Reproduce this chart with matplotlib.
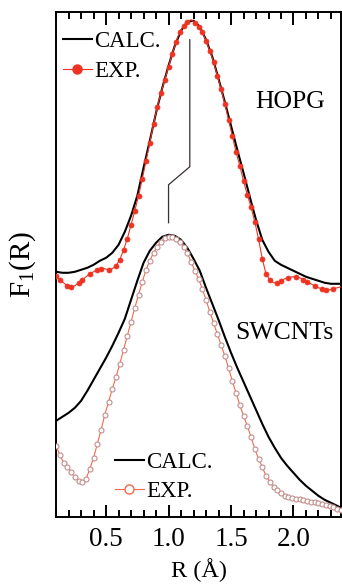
import numpy as np
import matplotlib
matplotlib.use('Agg')
import matplotlib.pyplot as plt
from matplotlib.lines import Line2D
from matplotlib.ticker import MultipleLocator

plt.rcParams['font.family'] = ['Liberation Serif', 'DejaVu Serif']
plt.rcParams['mathtext.fontset'] = 'custom'
plt.rcParams['mathtext.rm'] = 'Liberation Serif'

# calculated curves on a 0.05 A grid, measured ones on a 0.03 A grid
r_calc = np.round(0.10 + 0.05 * np.arange(47), 2)
r_exp = np.round(0.10 + 0.03 * np.arange(77), 2)

hopg_calc = [2.45, 2.44, 2.44, 2.45, 2.47, 2.49, 2.52, 2.56, 2.59, 2.64,
             2.72, 2.85, 3.01, 3.21, 3.49, 3.76, 4.04, 4.29, 4.51, 4.71,
             4.86, 4.95, 4.96, 4.90, 4.77, 4.60, 4.38, 4.15, 3.91, 3.67,
             3.44, 3.20, 2.97, 2.77, 2.65, 2.56, 2.52, 2.49, 2.46, 2.43,
             2.40, 2.38, 2.36, 2.34, 2.33, 2.33, 2.33]

hopg_exp = [2.41, 2.37, 2.34, 2.31, 2.30, 2.31, 2.34, 2.37, 2.40, 2.43,
            2.45, 2.47, 2.48, 2.48, 2.47, 2.48, 2.51, 2.57, 2.67, 2.78,
            2.92, 3.06, 3.21, 3.38, 3.56, 3.74, 3.93, 4.10, 4.24, 4.37,
            4.50, 4.63, 4.75, 4.85, 4.91, 4.95, 4.97, 4.94, 4.90, 4.85,
            4.76, 4.66, 4.55, 4.41, 4.28, 4.13, 3.97, 3.81, 3.65, 3.51,
            3.36, 3.22, 3.10, 2.95, 2.78, 2.58, 2.43, 2.37, 2.34, 2.34,
            2.36, 2.38, 2.39, 2.40, 2.40, 2.39, 2.37, 2.35, 2.33, 2.31,
            2.29, 2.28, 2.27, 2.27, 2.28, 2.29, 2.30]

swcnt_calc = [0.96, 1.00, 1.04, 1.09, 1.16, 1.26, 1.37, 1.48, 1.59, 1.71,
              1.84, 1.98, 2.17, 2.36, 2.54, 2.66, 2.74, 2.80, 2.82, 2.81,
              2.77, 2.69, 2.58, 2.46, 2.29, 2.13, 1.97, 1.80, 1.64, 1.49,
              1.35, 1.21, 1.07, 0.93, 0.80, 0.69, 0.59, 0.51, 0.44, 0.37,
              0.31, 0.26, 0.21, 0.17, 0.14, 0.11, 0.08]

swcnt_exp = [0.71, 0.62, 0.54, 0.50, 0.45, 0.40, 0.36, 0.35, 0.38, 0.48,
             0.59, 0.73, 0.87, 1.02, 1.15, 1.28, 1.40, 1.53, 1.67, 1.81,
             1.95, 2.09, 2.22, 2.35, 2.47, 2.56, 2.64, 2.70, 2.75, 2.79,
             2.80, 2.80, 2.78, 2.75, 2.70, 2.64, 2.55, 2.46, 2.38, 2.28,
             2.17, 2.05, 1.94, 1.83, 1.72, 1.61, 1.49, 1.36, 1.24, 1.12,
             1.01, 0.91, 0.80, 0.68, 0.58, 0.50, 0.41, 0.35, 0.30, 0.27,
             0.24, 0.21, 0.20, 0.19, 0.18, 0.18, 0.17, 0.16, 0.15, 0.15,
             0.14, 0.13, 0.12, 0.11, 0.10, 0.08, 0.07]

# peak shift marker: HOPG peak -> SWCNT peak
shift_r = [1.17, 1.17, 1.00, 1.00]
shift_y = [4.77, 3.50, 3.32, 2.94]

red = '#ee3322'
orange = '#f26a4b'
pink = '#c48e8e'

fig = plt.figure(figsize=(3.42, 5.86), dpi=100)
ax = fig.add_axes([0.164, 0.118, 0.833, 0.862])

ax.plot(r_calc, hopg_calc, color='black', lw=1.5, zorder=3)
ax.plot(r_exp, hopg_exp, color=red, lw=0.8, marker='o', ms=3.6,
        mfc=red, mec=red, mew=0.5, markevery=0.012, zorder=4)

ax.plot(r_calc, swcnt_calc, color='black', lw=1.5, zorder=3)
ax.plot(r_exp, swcnt_exp, color=orange, lw=0.8, marker='o', ms=3.6,
        mfc='white', mec=pink, mew=0.8, zorder=4)

ax.plot(shift_r, shift_y, color='#3a3030', lw=0.9, zorder=2)

ax.text(1.97, 4.15, 'HOPG', fontsize=18.5, ha='center', va='center')
ax.text(1.93, 1.84, 'SWCNTs', fontsize=18.5, ha='center', va='center')

leg_kw = dict(loc='upper left', frameon=False, fontsize=16.5,
              handlelength=1.25, handletextpad=0.12, labelspacing=0.36,
              borderpad=0, borderaxespad=0, numpoints=1)

h1 = [Line2D([], [], color='black', lw=1.5),
      Line2D([], [], color=red, lw=0.8, marker='o', ms=6.5, mfc=red, mec=red)]
leg1 = ax.legend(h1, ['CALC.', 'EXP.'], bbox_to_anchor=(0.0245, 0.961), **leg_kw)
ax.add_artist(leg1)

h2 = [Line2D([], [], color='black', lw=1.5),
      Line2D([], [], color=orange, lw=0.8, marker='o', ms=6.5, mfc='white', mec=orange)]
ax.legend(h2, ['CALC.', 'EXP.'], bbox_to_anchor=(0.207, 0.129), **leg_kw)

ax.set_xlim(0.1, 2.38)
ax.set_ylim(0, 5.05)
ax.xaxis.set_minor_locator(MultipleLocator(0.1))
ax.set_xticks([0.5, 1.0, 1.5, 2.0])
ax.set_xticklabels(['0.5', '1.0', '1.5', '2.0'])
ax.set_yticks([])
ax.tick_params(axis='x', which='both', direction='in', top=True, bottom=True,
               labelsize=19.5, width=1.4, pad=7)
ax.tick_params(axis='x', which='major', length=9)
ax.tick_params(axis='x', which='minor', length=5)
for s in ax.spines.values():
    s.set_linewidth(1.4)

ax.set_xlabel('R (Å)', fontsize=17.5, labelpad=4.5)
ax.set_ylabel('F$_\\mathregular{1}$(R)', fontsize=21, labelpad=13)

fig.savefig('out.png', dpi=100)
